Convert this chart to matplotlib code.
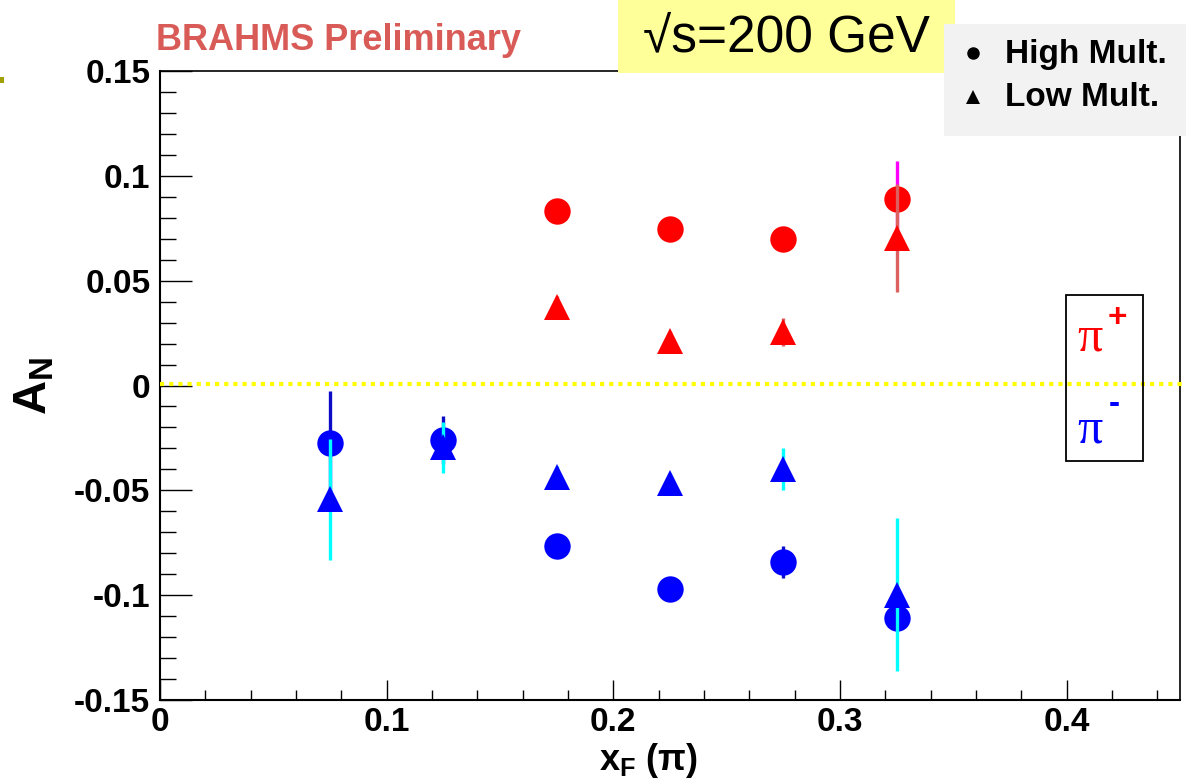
import matplotlib
matplotlib.use('Agg')
import matplotlib.pyplot as plt
from matplotlib.ticker import MultipleLocator, FixedLocator
from matplotlib.patches import Rectangle
from matplotlib.lines import Line2D

plt.rcParams['font.family'] = ['Liberation Sans', 'DejaVu Sans']
plt.rcParams['mathtext.fontset'] = 'custom'
plt.rcParams['mathtext.rm'] = 'Liberation Sans:bold'
plt.rcParams['mathtext.bf'] = 'Liberation Sans:bold'
plt.rcParams['mathtext.it'] = 'Liberation Sans:bold'

# ---------------- data ----------------
pip_x = [0.175, 0.225, 0.275, 0.325]
pip_high = [0.0832, 0.0747, 0.0700, 0.0889]
pip_high_err = [0.004, 0.004, 0.004, 0.018]
pip_low = [0.0375, 0.0212, 0.0255, 0.0705]
pip_low_err = [0.005, 0.005, 0.0068, 0.0257]

pim_x = [0.075, 0.125, 0.175, 0.225, 0.275, 0.325]
pim_high = [-0.0274, -0.0260, -0.0764, -0.0971, -0.0841, -0.111]
pim_high_err = [0.025, 0.0115, 0.004, 0.004, 0.0077, 0.006]
pim_low = [-0.0543, -0.0295, -0.0436, -0.0466, -0.0398, -0.0998]
pim_low_err = [0.0288, 0.0123, 0.005, 0.005, 0.0101, 0.0365]

x_ticks = [0, 0.1, 0.2, 0.3, 0.4]
x_ticklabels = ['0', '0.1', '0.2', '0.3', '0.4']
y_ticks = [-0.15, -0.1, -0.05, 0, 0.05, 0.1, 0.15]
y_ticklabels = ['-0.15', '-0.1', '-0.05', '0', '0.05', '0.1', '0.15']

W, H = 1186, 782
fig = plt.figure(figsize=(W / 100, H / 100), dpi=100)
fig.patch.set_facecolor('white')

def fx(px):
    return px / W

def fy(py):
    return 1 - py / H

ax = fig.add_axes([fx(160), fy(700), fx(1180) - fx(160), fy(71) - fy(700)])
ax.set_xlim(0, 0.45)
ax.set_ylim(-0.15, 0.15)

for s in ['left', 'bottom', 'right', 'top']:
    ax.spines[s].set_linewidth(1.5)
    ax.spines[s].set_color('black')
ax.spines['top'].set_linewidth(1.2)
ax.spines['right'].set_linewidth(1.2)

ax.xaxis.set_major_locator(FixedLocator(x_ticks))
ax.xaxis.set_minor_locator(MultipleLocator(0.02))
ax.yaxis.set_major_locator(FixedLocator(y_ticks))
ax.yaxis.set_minor_locator(MultipleLocator(0.01))
ax.set_xticklabels(x_ticklabels)
ax.set_yticklabels(y_ticklabels)
ax.tick_params(axis='y', which='major', direction='in', length=23, width=1.0, pad=7,
               labelsize=24)
ax.tick_params(axis='y', which='minor', direction='in', length=11.5, width=1.0)
ax.tick_params(axis='x', which='major', direction='in', length=14.4, width=1.0, pad=5,
               labelsize=24)
ax.tick_params(axis='x', which='minor', direction='in', length=7.2, width=1.0)
for lab in ax.get_xticklabels() + ax.get_yticklabels():
    lab.set_fontweight('bold')

ms = 19
elw = 2.4
# high multiplicity (circles)
ax.errorbar(pip_x, pip_high, yerr=pip_high_err, fmt='none', ecolor='#ff00ff',
            elinewidth=elw, capsize=0, zorder=2)
ax.errorbar(pim_x, pim_high, yerr=pim_high_err, fmt='none', ecolor='#0c0cc8',
            elinewidth=elw, capsize=0, zorder=2)
ax.plot(pip_x, pip_high, 'o', color='#ff0000', ms=ms, mew=0, zorder=3)
ax.plot(pim_x, pim_high, 'o', color='#0000ff', ms=ms, mew=0, zorder=3)
# low multiplicity (triangles)
ax.errorbar(pip_x, pip_low, yerr=pip_low_err, fmt='none', ecolor='#dd6060',
            elinewidth=elw, capsize=0, zorder=4)
ax.errorbar(pim_x, pim_low, yerr=pim_low_err, fmt='none', ecolor='#00ffff',
            elinewidth=elw, capsize=0, zorder=4)
ax.plot(pip_x, pip_low, '^', color='#ff0000', ms=ms, mew=0, zorder=5)
ax.plot(pim_x, pim_low, '^', color='#0000ff', ms=ms, mew=0, zorder=5)

# yellow dotted zero line, extending to the right edge of the figure
ax.plot([0, 0.4525], [0.0005, 0.0005], color='#ffff00', lw=3,
        dashes=(1.0, 1.2), clip_on=False, zorder=6, solid_capstyle='butt',
        dash_capstyle='butt')

# axis titles
fig.text(fx(34), fy(386), r'$\mathbf{A}_{\mathbf{N}}$', rotation=90,
         ha='center', va='center', fontsize=34)
fig.text(fx(648), fy(760), r'$\mathbf{x}_{\mathbf{F}}$ (π)', ha='center', va='center',
         fontsize=26, fontweight='bold')

# BRAHMS Preliminary
fig.text(fx(156), fy(40), 'BRAHMS Preliminary', color='#d95b57', fontsize=26,
         fontweight='bold', ha='left', va='center')

# sqrt(s) box
fig.patches.append(Rectangle((fx(618), fy(73)), fx(955) - fx(618), fy(0) - fy(73),
                             transform=fig.transFigure, facecolor='#ffff99',
                             edgecolor='none', zorder=2))
fig.text(fx(786), fy(38), '√s=200 GeV', fontsize=37, ha='center', va='center',
         color='black', zorder=3)

# legend box
fig.patches.append(Rectangle((fx(944), fy(136)), fx(1186) - fx(944), fy(24) - fy(136),
                             transform=fig.transFigure, facecolor='#f2f2f2',
                             edgecolor='none', zorder=2))
fig.lines.append(Line2D([fx(973)], [fy(53)], marker='o', color='black', ms=9, mew=0,
                        transform=fig.transFigure, zorder=3))
fig.lines.append(Line2D([fx(973)], [fy(97)], marker='^', color='black', ms=10, mew=0,
                        transform=fig.transFigure, zorder=3))
fig.text(fx(1005), fy(54), 'High Mult.', fontsize=24, fontweight='bold',
         ha='left', va='center', zorder=3)
fig.text(fx(1005), fy(98), 'Low Mult.', fontsize=24, fontweight='bold',
         ha='left', va='center', zorder=3)

# pi label box
fig.patches.append(Rectangle((fx(1066), fy(461)), fx(1143) - fx(1066), fy(295) - fy(461),
                             transform=fig.transFigure, facecolor='none',
                             edgecolor='black', lw=1.3, zorder=3))
fig.text(fx(1077), fy(338), 'π', color='#ff0000', fontsize=36,
         family=['Liberation Serif', 'DejaVu Serif'], ha='left', va='center', zorder=4)
fig.text(fx(1108), fy(318), '+', color='#ff0000', fontsize=24, fontweight='bold',
         ha='left', va='center', zorder=4)
fig.text(fx(1077), fy(430), 'π', color='#0000ff', fontsize=36,
         family=['Liberation Serif', 'DejaVu Serif'], ha='left', va='center', zorder=4)
fig.text(fx(1109), fy(405), '-', color='#0000ff', fontsize=24, fontweight='bold',
         ha='left', va='center', zorder=4)

# small olive mark at the left edge
fig.patches.append(Rectangle((fx(0), fy(83)), fx(4), fy(77) - fy(83),
                             transform=fig.transFigure, facecolor='#a0a000',
                             edgecolor='none', zorder=2))

fig.savefig('out.png', dpi=100, facecolor='white')
